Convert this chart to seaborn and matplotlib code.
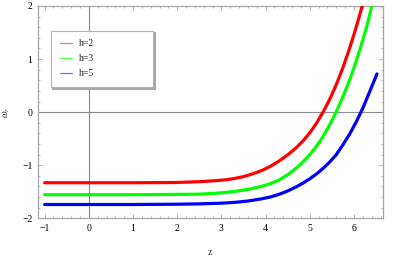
import matplotlib
matplotlib.use("Agg")
import matplotlib.pyplot as plt
from matplotlib.ticker import MultipleLocator
import pandas as pd
import seaborn as sns

# values
z_h2 = [-1.0, 0.0, 1.0, 1.5, 2.0, 2.5, 2.8, 3.1, 3.3, 3.5, 3.7, 3.9, 4.1, 4.3, 4.5, 4.7,
        4.85, 5.0, 5.15, 5.3, 5.45, 5.6, 5.75, 5.9, 6.05, 6.2]
w_h2 = [-1.33, -1.33, -1.33, -1.328, -1.325, -1.31, -1.295, -1.275, -1.25, -1.215, -1.165,
        -1.105, -1.025, -0.925, -0.805, -0.665, -0.54, -0.39, -0.21, 0.0, 0.24, 0.52,
        0.84, 1.2, 1.6, 2.04]

z_h3 = [-1.0, 0.0, 1.0, 2.0, 2.5, 2.8, 3.0, 3.3, 3.6, 3.9, 4.1, 4.3, 4.5, 4.7, 4.85, 5.0,
        5.15, 5.3, 5.45, 5.6, 5.75, 5.9, 6.05, 6.2, 6.3, 6.42]
w_h3 = [-1.555, -1.555, -1.555, -1.55, -1.545, -1.532, -1.52, -1.495, -1.455, -1.40,
        -1.35, -1.28, -1.18, -1.05, -0.935, -0.80, -0.645, -0.46, -0.24, 0.01, 0.29,
        0.60, 0.96, 1.36, 1.65, 2.05]

z_h5 = [-1.0, 0.0, 1.0, 2.0, 2.5, 3.0, 3.3, 3.6, 3.9, 4.1, 4.3, 4.5, 4.7, 4.85, 5.0, 5.15,
        5.3, 5.45, 5.6, 5.75, 5.9, 6.05, 6.2, 6.35, 6.52]
w_h5 = [-1.74, -1.74, -1.74, -1.735, -1.728, -1.715, -1.70, -1.675, -1.635, -1.60, -1.55,
        -1.485, -1.405, -1.335, -1.255, -1.165, -1.06, -0.94, -0.80, -0.615, -0.415,
        -0.185, 0.075, 0.375, 0.72]

series = {"h=2": (z_h2, w_h2), "h=3": (z_h3, w_h3), "h=5": (z_h5, w_h5)}
colors = {"h=2": "#ff0000", "h=3": "#00ff00", "h=5": "#0000ff"}
legend_colors = ["#ff6e6e", "#5cf55c", "#7070ff"]

df = pd.concat(
    [pd.DataFrame({"z": z, "omega": w, "h": name}) for name, (z, w) in series.items()],
    ignore_index=True,
)

sns.set_style("ticks")
plt.rcParams["font.family"] = ["Liberation Serif", "DejaVu Serif"]
plt.rcParams["mathtext.fontset"] = "stix"

fig = plt.figure(figsize=(4.15, 2.57), dpi=100)
ax = fig.add_axes([0.0916, 0.1506, 0.8306, 0.8261])

frame_gray = "#a6a6a6"
ax.axhline(0, color="#8c8c8c", lw=0.8, zorder=1)
ax.axvline(0, color="#8c8c8c", lw=0.8, zorder=1)

sns.lineplot(data=df, x="z", y="omega", hue="h", palette=colors, linewidth=2.3,
             estimator=None, sort=False, ax=ax, zorder=3,
             solid_joinstyle="round")

ax.set_xlim(-1.15, 6.65)
ax.set_ylim(-2, 2)
ax.xaxis.set_major_locator(MultipleLocator(1))
ax.xaxis.set_minor_locator(MultipleLocator(0.2))
ax.yaxis.set_major_locator(MultipleLocator(1))
ax.yaxis.set_minor_locator(MultipleLocator(0.2))
ax.tick_params(which="both", direction="in", top=True, right=True,
               color=frame_gray, width=0.6, labelsize=7, labelcolor="black")
ax.tick_params(which="major", length=3.2, pad=4)
ax.tick_params(which="minor", length=1.6)
for sp in ax.spines.values():
    sp.set_color(frame_gray)
    sp.set_linewidth(0.9)

ax.set_xlabel("z", fontsize=7, labelpad=11)
ax.set_ylabel(r"$\omega_r$", fontsize=7, labelpad=7)

leg = ax.legend(loc="upper left", bbox_to_anchor=(0.037, 0.623, 0.297, 0.261),
                mode="expand", borderaxespad=0, fontsize=7, frameon=True,
                fancybox=False, edgecolor="#b0b0b0", framealpha=1,
                handlelength=1.3, handletextpad=0.7, labelspacing=0.62,
                borderpad=0.9, title=None,
                shadow={"ox": 1.2, "oy": -1.2, "color": "#a8a8a8", "alpha": 1})
leg.get_frame().set_linewidth(0.8)
for line, c in zip(leg.get_lines(), legend_colors):
    line.set_linewidth(0.9)
    line.set_color(c)
leg.set_zorder(5)

fig.savefig("out.png", dpi=100)
